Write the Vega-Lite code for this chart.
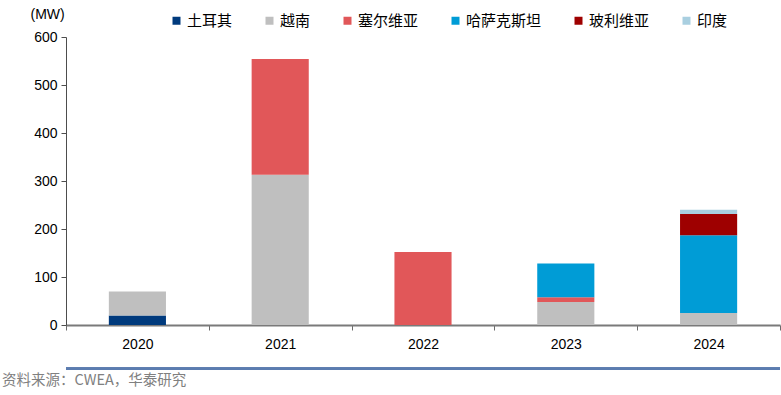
{
  "$schema": "https://vega.github.io/schema/vega-lite/v6.json",
  "width": 714,
  "height": 288,
  "autosize": {"type": "none"},
  "padding": {"left": 66, "top": 37, "right": 1, "bottom": 70},
  "config": {"view": {"stroke": null}, "font": "Liberation Sans"},
  "title": {
    "text": "资料来源：CWEA，华泰研究",
    "orient": "bottom",
    "anchor": "start",
    "frame": "group",
    "dx": -64,
    "offset": 4,
    "font": "Noto Sans CJK SC",
    "fontSize": 14.5,
    "fontWeight": "normal",
    "color": "#808080"
  },
  "data": {
    "values": [
      {"year": "2020", "country": "土耳其", "k": 1, "mw": 20},
      {"year": "2020", "country": "越南", "k": 2, "mw": 50},
      {"year": "2021", "country": "越南", "k": 2, "mw": 313},
      {"year": "2021", "country": "塞尔维亚", "k": 3, "mw": 241},
      {"year": "2022", "country": "塞尔维亚", "k": 3, "mw": 152},
      {"year": "2023", "country": "越南", "k": 2, "mw": 48},
      {"year": "2023", "country": "塞尔维亚", "k": 3, "mw": 10},
      {"year": "2023", "country": "哈萨克斯坦", "k": 4, "mw": 70},
      {"year": "2024", "country": "越南", "k": 2, "mw": 25},
      {"year": "2024", "country": "哈萨克斯坦", "k": 4, "mw": 162},
      {"year": "2024", "country": "玻利维亚", "k": 5, "mw": 44},
      {"year": "2024", "country": "印度", "k": 6, "mw": 9}
    ]
  },
  "layer": [
    {
      "mark": {"type": "bar", "width": {"band": 0.4}},
      "encoding": {
        "x": {
          "field": "year",
          "type": "ordinal",
          "scale": {"paddingInner": 0, "paddingOuter": 0},
          "axis": {
            "title": null,
            "labelAngle": 0,
            "labelFontSize": 14,
            "labelColor": "#000000",
            "labelPadding": 7,
            "tickBand": "extent",
            "tickSize": 5,
            "tickColor": "#6b6b6b",
            "domainColor": "#7a7a7a",
            "domainWidth": 2
          }
        },
        "y": {
          "field": "mw",
          "type": "quantitative",
          "stack": "zero",
          "scale": {"domain": [0, 600], "nice": false},
          "axis": {
            "values": [0, 100, 200, 300, 400, 500, 600],
            "grid": false,
            "title": "(MW)",
            "titleAngle": 0,
            "titleAlign": "left",
            "titleBaseline": "middle",
            "titleX": -36,
            "titleY": -23,
            "titleFontSize": 14,
            "titleFontWeight": "normal",
            "titleColor": "#000000",
            "labelFontSize": 14,
            "labelColor": "#000000",
            "labelPadding": 4,
            "tickSize": 5,
            "tickColor": "#4d4d4d",
            "domainColor": "#4d4d4d"
          }
        },
        "color": {
          "field": "country",
          "type": "nominal",
          "scale": {
            "domain": ["土耳其", "越南", "塞尔维亚", "哈萨克斯坦", "玻利维亚", "印度"],
            "range": ["#003A7D", "#BFBFBF", "#E15759", "#009CD6", "#9E0000", "#A9CFE0"]
          },
          "legend": {
            "title": null,
            "orient": "none",
            "direction": "horizontal",
            "legendX": 103,
            "legendY": -24,
            "symbolType": "square",
            "symbolSize": 64,
            "symbolStrokeWidth": 0,
            "labelFont": "Noto Sans CJK SC",
            "labelFontSize": 15,
            "labelColor": "#000000",
            "labelOffset": 3,
            "columnPadding": 29
          }
        },
        "order": {"field": "k", "type": "quantitative"}
      }
    },
    {
      "mark": {"type": "rule", "color": "#5B7DB0", "strokeWidth": 2},
      "encoding": {
        "y": {"datum": -91, "type": "quantitative", "scale": {"domain": [0, 600], "nice": false}, "axis": null}
      }
    }
  ],
  "resolve": {"scale": {"y": "independent"}}
}
